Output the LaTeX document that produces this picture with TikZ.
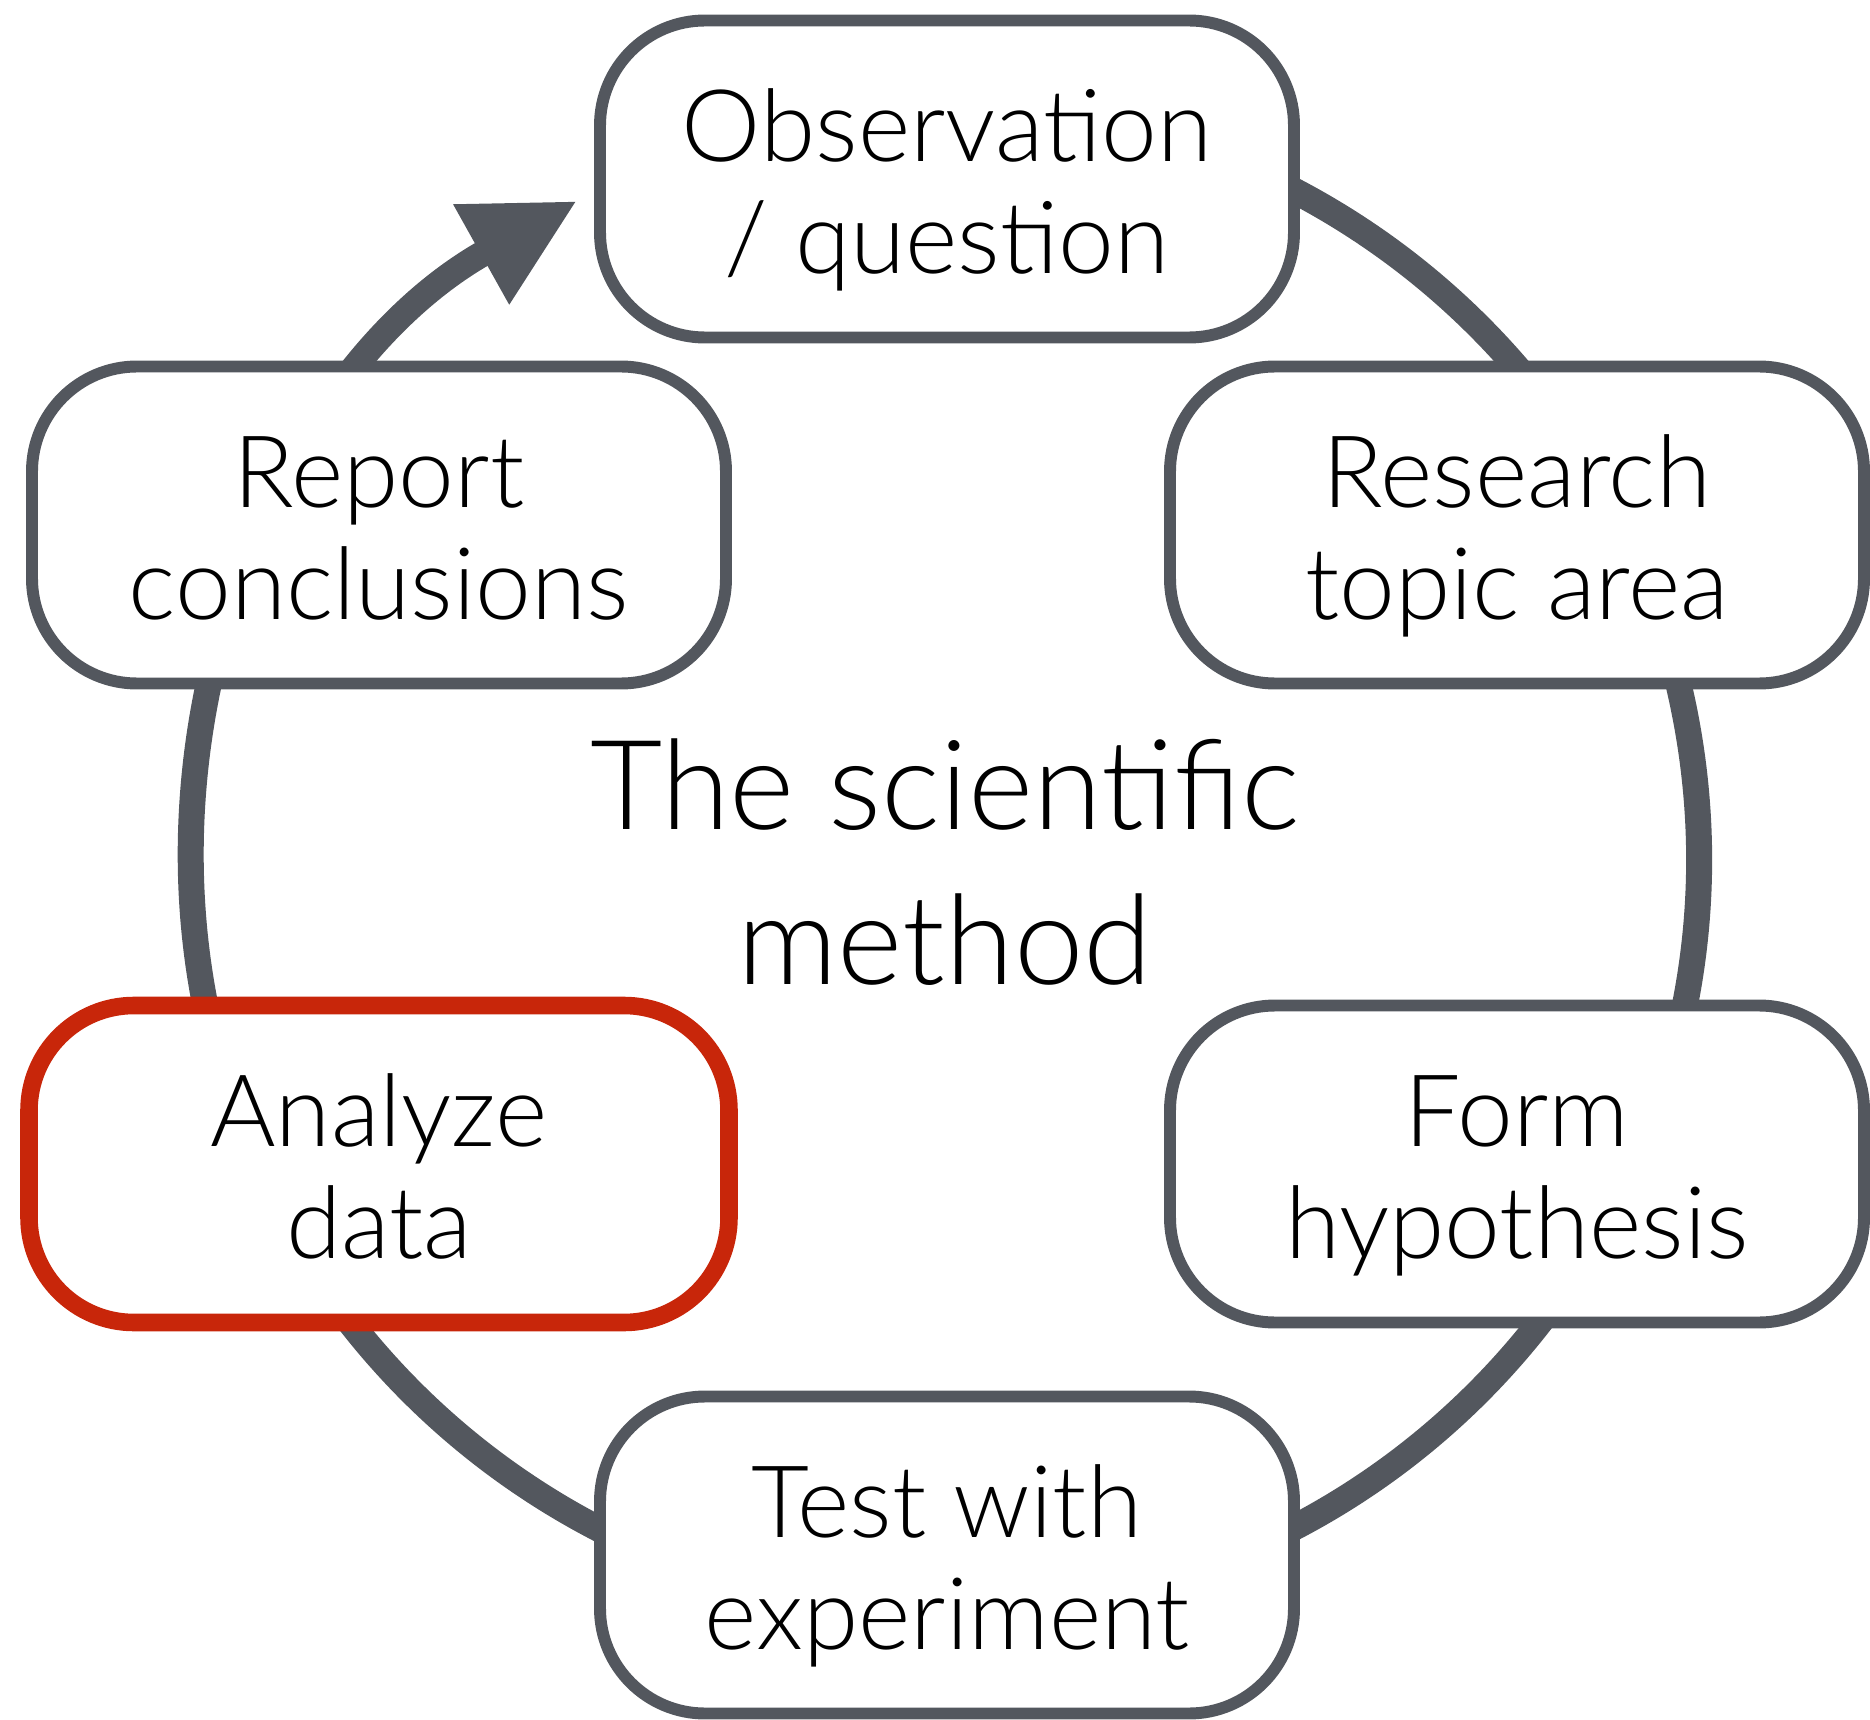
\documentclass[tikz,border=0pt]{standalone}
\usepackage{fontspec}
\setmainfont{Lato Light}
\usetikzlibrary{arrows.meta}
\definecolor{ringgray}{RGB}{83,87,94}
\definecolor{alertred}{RGB}{200,38,10}

\begin{document}
\begin{tikzpicture}[
  stage/.style={draw=ringgray,line width=3.4pt,rounded corners=1.05cm,fill=white,
    minimum width=6.94cm,minimum height=3.17cm,align=center,
    font=\fontsize{28.5}{32}\selectfont,text height=60pt,text depth=6pt},
  current/.style={stage,draw=alertred,line width=5pt,minimum width=7cm},
  ring/.style={draw=ringgray,line width=0.26cm},
  into/.style={-{Triangle[length=1.1cm,width=1.07cm]}},
  title/.style={align=center,font=\fontsize{35.5}{44}\selectfont}]

  \useasboundingbox (0,0) rectangle (18.7,17.19);

  % The ring runs behind the stages
  \coordinate (hub) at (9.45,8.60);
  \draw[ring,into] ([shift={(100:7.54)}]hub)
    arc[start angle=100,end angle=-240.8,radius=7.54];

  % Stages of the cycle
  \node[stage] (obs) at (9.47,15.40) {Observation\\/ question};
  \node[stage] (research) at (15.17,11.94) {Research\\topic area};
  \node[stage] (form) at (15.17,5.55) {Form\\hypothesis};
  \node[stage] (test) at (9.47,1.64) {Test with\\experiment};
  \node[current] (analyze) at (3.79,5.55) {Analyze\\data};
  \node[stage] (report) at (3.79,11.94) {Report\\conclusions};

  \node[title] (method) at (9.45,8.57) {The scientific\\method};
\end{tikzpicture}
\end{document}
